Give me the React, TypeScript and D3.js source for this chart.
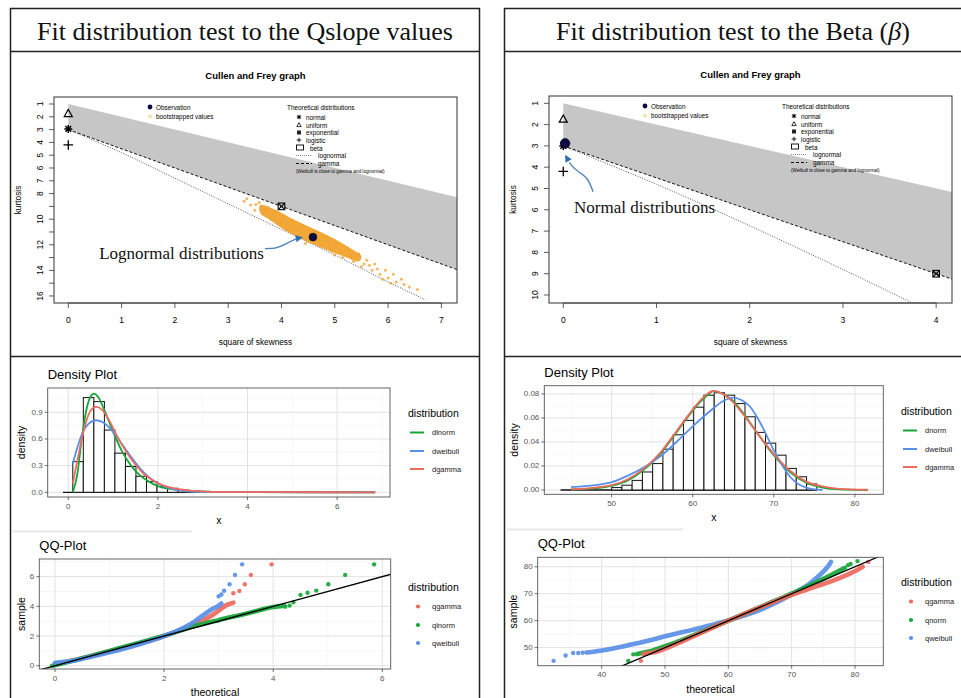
import React from "react";
import * as d3 from "d3";

type P = [number, number];

// ================= Titles =================
const titleLeft = "Fit distribution test to the Qslope values";
const titleRightMain = "Fit distribution test to the Beta (";
const titleRightSym = "β";
const titleRightEnd = ")";

// ================= Cullen & Frey (left, Qslope) =================
const cfL_xTicks = [0, 1, 2, 3, 4, 5, 6, 7];
const cfL_yTicks = [1, 2, 3, 4, 5, 6, 7, 8, 9, 10, 11, 12, 13, 14, 15, 16];
const cfL_yLabels = [1, 2, 3, 4, 5, 6, 7, 8, 10, 12, 14, 16];
const cfL_betaUpper: P[] = [[0, 1], [7.3, 8.3]];
const cfL_gamma: P[] = [[0, 3], [7.3, 13.95]];
const cfL_lognormal: P[] = [[0, 3], [1, 4.8], [2, 6.8], [3, 8.8], [4, 10.8], [5, 12.8], [6, 14.9], [6.7, 16.3]];
const cfL_obs: P = [4.59, 11.4];
const cfL_normal: P = [0, 2.95];
const cfL_uniform: P = [0, 1.75];
const cfL_logistic: P = [0, 4.2];
const cfL_exponential: P = [4, 9];
const cfL_bootCore: P[] = [
  [3.6, 8.9], [3.9, 9.3], [4.22, 10.0], [4.6, 10.75], [5.0, 11.55], [5.3, 12.3], [5.5, 12.9],
  [5.45, 13.3], [5.2, 12.95], [4.85, 12.4], [4.47, 11.75], [4.1, 10.95], [3.8, 10.1], [3.6, 9.5],
];
const cfL_bootPts: P[] = [
  [3.3, 8.6], [3.35, 8.4], [3.42, 8.9], [3.5, 9.3], [3.58, 8.7], [3.65, 9.6], [3.75, 9.1], [3.8, 10.0], [3.9, 9.4],
  [3.95, 10.4], [4.05, 9.8], [4.1, 10.8], [4.2, 10.1], [4.3, 11.3], [4.4, 10.5], [4.5, 11.6], [4.65, 11.0],
  [4.75, 12.1], [4.85, 11.4], [4.95, 12.5], [5.05, 11.9], [5.15, 13.0], [5.25, 12.3], [5.35, 13.3], [5.45, 12.7],
  [5.5, 13.7], [5.6, 13.2], [5.7, 14.0], [5.75, 13.5], [5.85, 14.3], [5.95, 14.0], [6.0, 14.6], [6.1, 14.3],
  [6.15, 14.9], [6.25, 14.7], [6.3, 15.1], [6.4, 15.3], [6.55, 15.5], [6.05, 15.0], [5.9, 14.7],
  [3.7, 9.3], [3.85, 9.7], [4.0, 10.3], [4.15, 10.6], [4.35, 10.9], [4.55, 11.3], [4.7, 11.6], [4.9, 12.0],
  [5.1, 12.5], [5.3, 12.9], [5.55, 13.5], [5.65, 13.6], [5.8, 13.9], [3.52, 8.85], [4.45, 11.9], [5.0, 12.8],
];
const cfL_arrow: P[] = [[3.69, 12.3], [3.91, 12.23], [4.1, 11.89], [4.25, 11.58], [4.3, 11.5]];
const cfL_arrowTip: P = [4.4, 11.42];
const cfL_note = "Lognormal distributions";
const cfL_notePos: P = [0.58, 13.1];

// ================= Cullen & Frey (right, Beta) =================
const cfR_xTicks = [0, 1, 2, 3, 4];
const cfR_yTicks = [1, 2, 3, 4, 5, 6, 7, 8, 9, 10];
const cfR_yLabels = [1, 2, 3, 4, 5, 6, 7, 8, 9, 10];
const cfR_betaUpper: P[] = [[0, 1], [4.2, 5.2]];
const cfR_gamma: P[] = [[0, 3], [4.2, 9.3]];
const cfR_lognormal: P[] = [[0, 3], [1, 4.8], [2, 6.75], [3, 8.8], [3.85, 10.6]];
const cfR_obs: P = [0.02, 2.88];
const cfR_normal: P = [0, 3];
const cfR_uniform: P = [0, 1.75];
const cfR_logistic: P = [0, 4.2];
const cfR_exponential: P = [4, 9];
const cfR_arrow: P[] = [[0.32, 5.15], [0.25, 4.52], [0.126, 4.08], [0.065, 3.77]];
const cfR_arrowTip: P = [0.02, 3.42];
const cfR_note = "Normal distributions";
const cfR_notePos: P = [0.115, 6.15];

const cfLegendTheo = ["normal", "uniform", "exponential", "logistic", "beta", "lognormal", "gamma"];
const cfWeibullNote = "(Weibull is close to gamma and lognormal)";

// ================= Density (left) =================
const dL_binStart = 0.1;
const dL_binWidth = 0.235;
const dL_heights = [0.345, 1.065, 1.02, 0.7, 0.44, 0.29, 0.18, 0.12, 0.065, 0.045, 0.025, 0.015, 0.01, 0.006, 0.004];
const dL_zero: P = [-0.12, 6.84];
const dL_lnorm: P[] = [[0.1, 0.0], [0.2, 0.2], [0.3, 0.6], [0.4, 0.92], [0.5, 1.08], [0.57, 1.11], [0.67, 1.07], [0.8, 0.93], [1.0, 0.68], [1.2, 0.46], [1.4, 0.3], [1.6, 0.19], [1.8, 0.12], [2.0, 0.07], [2.3, 0.035], [2.6, 0.018], [3.0, 0.008], [4.0, 0.001], [6.85, 0]];
const dL_weibull: P[] = [[0.1, 0.32], [0.2, 0.5], [0.3, 0.65], [0.45, 0.77], [0.62, 0.81], [0.8, 0.78], [1.0, 0.68], [1.2, 0.54], [1.4, 0.4], [1.6, 0.27], [1.8, 0.17], [2.0, 0.1], [2.2, 0.055], [2.5, 0.02], [2.8, 0.006], [3.2, 0.001], [6.85, 0]];
const dL_gamma: P[] = [[0.1, 0.1], [0.2, 0.35], [0.3, 0.6], [0.4, 0.8], [0.5, 0.92], [0.62, 0.96], [0.75, 0.93], [0.9, 0.82], [1.1, 0.62], [1.3, 0.45], [1.5, 0.31], [1.7, 0.2], [1.9, 0.13], [2.1, 0.08], [2.4, 0.04], [2.8, 0.015], [3.2, 0.005], [4.0, 0.001], [6.85, 0]];
const dL_legend = ["dlnorm", "dweibull", "dgamma"];

// ================= Density (right) =================
const dR_binStart = 50.0;
const dR_binWidth = 1.265;
const dR_heights = [0.002, 0.004, 0.008, 0.015, 0.022, 0.034, 0.046, 0.058, 0.069, 0.079, 0.081, 0.079, 0.072, 0.061, 0.048, 0.039, 0.029, 0.018, 0.011, 0.005];
const dR_zero: P = [43.7, 75.3];
const dR_norm: P[] = [[45, 0.0004], [48, 0.0015], [50, 0.0035], [52, 0.008], [54, 0.017], [56, 0.03], [58, 0.048], [60, 0.066], [61, 0.074], [62, 0.08], [62.5, 0.0825], [63, 0.082], [64, 0.079], [65, 0.074], [66, 0.066], [68, 0.047], [70, 0.029], [72, 0.015], [74, 0.006], [76, 0.002], [78, 0.0005], [81.6, 0]];
const dR_weibull: P[] = [[45, 0.0023], [48, 0.004], [50, 0.0065], [52, 0.012], [54, 0.019], [56, 0.028], [58, 0.04], [60, 0.053], [62, 0.065], [64, 0.075], [65, 0.077], [66, 0.075], [67, 0.07], [68, 0.06], [69, 0.047], [70, 0.033], [71, 0.021], [72, 0.011], [73, 0.005], [74, 0.002], [75, 0.0005], [76, 0]];
const dR_gamma: P[] = [[45, 0.0005], [48, 0.002], [50, 0.004], [52, 0.009], [54, 0.018], [56, 0.031], [58, 0.049], [60, 0.067], [61, 0.075], [62, 0.081], [62.5, 0.0825], [63, 0.082], [64, 0.079], [65, 0.073], [66, 0.065], [68, 0.047], [70, 0.03], [72, 0.016], [74, 0.007], [76, 0.003], [78, 0.001], [81.6, 0.0002]];
const dR_legend = ["dnorm", "dweibull", "dgamma"];

// ================= QQ (left) =================
const qL_redBand: P[] = [[0, 0.1], [0.5, 0.5], [1, 0.97], [1.5, 1.45], [2, 2.0], [2.3, 2.4], [2.66, 2.97], [2.9, 3.45], [3.05, 3.85], [3.15, 4.1], [3.27, 4.25]];
const qL_redPts: P[] = [[3.27, 4.88], [3.38, 5.04], [3.48, 5.49], [3.59, 6.12], [3.97, 6.83]];
const qL_greenBand: P[] = [[-0.05, 0], [0.5, 0.5], [1, 1], [1.5, 1.5], [2, 2.02], [2.5, 2.6], [3, 3.07], [3.5, 3.5], [4, 3.95], [4.2, 4.05]];
const qL_greenPts: P[] = [[4.22, 3.98], [4.3, 4.05], [4.37, 4.27], [4.5, 4.77], [4.63, 4.92], [4.79, 5.06], [5.01, 5.49], [5.32, 6.12], [5.85, 6.83]];
const qL_blueBand: P[] = [[0, 0.2], [0.3, 0.32], [0.6, 0.55], [1, 0.9], [1.5, 1.4], [2, 2.0], [2.3, 2.45], [2.55, 2.95], [2.75, 3.5], [2.9, 3.85], [3.0, 4.05], [3.05, 4.2]];
const qL_bluePts: P[] = [[3.0, 4.68], [3.05, 4.8], [3.1, 5.05], [3.2, 5.49], [3.3, 6.12], [3.43, 6.83]];
const qL_legend = ["qgamma", "qlnorm", "qweibull"];

// ================= QQ (right) =================
const qR_blueBand: P[] = [[37.6, 48.2], [38.5, 48.4], [40, 48.9], [42, 49.8], [44, 50.8], [46, 51.8], [48, 52.9], [50, 54.2], [52, 55.3], [54, 56.4], [56, 57.6], [58, 58.8], [60, 60.1], [62, 61.5], [64, 63.1], [66, 65], [68, 67.2], [70, 69.7], [72, 72.4], [73, 74], [74, 76], [75, 78.2], [75.7, 80], [76.2, 81.8]];
const qR_bluePts: P[] = [[32.4, 45.1], [34.3, 47.1], [35.5, 48.0], [36.3, 48.0], [37.0, 48.1]];
const qR_greenBand: P[] = [[45.6, 47.6], [46.5, 48.1], [48, 48.9], [50, 50.5], [52, 52.2], [54, 54.1], [56, 56], [58, 58], [60, 60], [62, 62], [64, 64], [66, 66], [68, 68], [70, 70], [72, 72.1], [74, 74.3], [76, 76.6], [77.5, 78.5], [78.4, 79.6]];
const qR_greenPts: P[] = [[44.2, 45.1], [45.0, 47.5], [78.9, 80.6], [79.3, 81.0], [80.4, 82.1]];
const qR_redBand: P[] = [[46.6, 47.6], [47.5, 48.0], [48.5, 48.4], [50, 49.6], [52, 51.6], [54, 53.7], [56, 55.8], [58, 57.9], [60, 60], [62, 62], [64, 64], [66, 65.9], [68, 67.8], [70, 69.6], [72, 71.2], [74, 72.8], [76, 74.4], [78, 76.2], [79.5, 77.8], [80.5, 79], [81.2, 80]];
const qR_redPts: P[] = [[46.2, 45.1], [82.1, 81.8]];
const qR_legend = ["qgamma", "qnorm", "qweibull"];

// ================= Styles =================
const RED = "#ED6A5E";
const GREEN = "#14A637";
const BLUE = "#5A8FE8";
const SANS = "'Liberation Sans', Arial, sans-serif";
const SERIF = "'Liberation Serif', 'Times New Roman', serif";

// ---------- marker helpers ----------
function Star({ cx, cy, s, w = 1.3 }: { cx: number; cy: number; s: number; w?: number }) {
  const d = s * 0.72;
  return (
    <path
      d={`M${cx - s},${cy}L${cx + s},${cy}M${cx},${cy - s}L${cx},${cy + s}M${cx - d},${cy - d}L${cx + d},${cy + d}M${cx - d},${cy + d}L${cx + d},${cy - d}`}
      stroke="#000" strokeWidth={w} fill="none"
    />
  );
}
function Tri({ cx, cy, s, w = 1.2 }: { cx: number; cy: number; s: number; w?: number }) {
  return (
    <path d={`M${cx},${cy - s}L${cx - s * 0.95},${cy + s * 0.7}L${cx + s * 0.95},${cy + s * 0.7}Z`} stroke="#000" strokeWidth={w} fill="none" />
  );
}
function Plus({ cx, cy, s, w = 1.2 }: { cx: number; cy: number; s: number; w?: number }) {
  return <path d={`M${cx - s},${cy}L${cx + s},${cy}M${cx},${cy - s}L${cx},${cy + s}`} stroke="#000" strokeWidth={w} fill="none" />;
}
function SqX({ cx, cy, s, w = 1.1 }: { cx: number; cy: number; s: number; w?: number }) {
  return (
    <g>
      <rect x={cx - s} y={cy - s} width={2 * s} height={2 * s} fill="none" stroke="#000" strokeWidth={w} />
      <path d={`M${cx - s},${cy - s}L${cx + s},${cy + s}M${cx - s},${cy + s}L${cx + s},${cy - s}`} stroke="#000" strokeWidth={w} />
    </g>
  );
}

function arrowHeadPath(from: [number, number], tip: [number, number], len: number, half: number) {
  const ang = Math.atan2(tip[1] - from[1], tip[0] - from[0]);
  const bx = tip[0] - len * Math.cos(ang);
  const by = tip[1] - len * Math.sin(ang);
  const px = -Math.sin(ang) * half;
  const py = Math.cos(ang) * half;
  return `M${tip[0]},${tip[1]}L${bx + px},${by + py}L${bx - px},${by - py}Z`;
}

// ---------- Cullen & Frey panel ----------
function CullenFrey(p: any) {
  const { l, r, t, b, xDom, yDom, xTicks, yTicks, yLabels, betaUpper, gamma, lognormal, obs, obsR,
    normal, uniform, logistic, exponential, bootCore, bootPts, arrow, arrowTip, note, notePos, id } = p;
  const x = d3.scaleLinear().domain(xDom).range([l, r]);
  const y = d3.scaleLinear().domain(yDom).range([t, b]);
  const line = d3.line<P>().x((d) => x(d[0])).y((d) => y(d[1]));
  const curve = d3.line<P>().x((d) => x(d[0])).y((d) => y(d[1])).curve(d3.curveCatmullRom);
  const poly: P[] = [...betaUpper, ...gamma.slice().reverse()];
  const cx = (l + r) / 2;
  const last = arrow[arrow.length - 1];
  const lx = l + 96;
  const tx = l + 233;
  const sx = l + 245;
  const ly0 = t + 10;
  const legFont = 6.4;
  const theoY = [20, 28, 35.5, 43, 51, 58.5, 66.5].map((v) => t + v);
  return (
    <g fontFamily={SANS}>
      <defs>
        <clipPath id={id}>
          <rect x={l} y={t} width={r - l} height={b - t} />
        </clipPath>
      </defs>
      <text x={cx} y={t - 22} textAnchor="middle" fontWeight="bold" fontSize={9.5} dominantBaseline="central">Cullen and Frey graph</text>
      <g clipPath={`url(#${id})`}>
        <path d={line(poly) + "Z"} fill="#c6c6c6" stroke="none" />
        <path d={line(gamma) || ""} fill="none" stroke="#111" strokeWidth={1} strokeDasharray="3,2" />
        <path d={curve(lognormal) || ""} fill="none" stroke="#555" strokeWidth={1} strokeDasharray="1,1.5" />
        {bootCore && <path d={d3.line<P>().x((d) => x(d[0])).y((d) => y(d[1])).curve(d3.curveCatmullRomClosed)(bootCore) || ""} fill="#ef9f22" opacity={0.9} />}
        {bootPts && bootPts.map((d: P, i: number) => <circle key={i} cx={x(d[0])} cy={y(d[1])} r={1.5} fill="#f2a02a" opacity={0.75} />)}
        <Tri cx={x(uniform[0])} cy={y(uniform[1])} s={4.2} />
        <Star cx={x(normal[0])} cy={y(normal[1])} s={4} w={1.5} />
        <Plus cx={x(logistic[0])} cy={y(logistic[1])} s={4.8} w={1.3} />
        <SqX cx={x(exponential[0])} cy={y(exponential[1])} s={3.3} />
        <circle cx={x(obs[0])} cy={y(obs[1])} r={obsR} fill="#0b0b45" stroke="#000" strokeWidth={0.6} />
        <path d={curve(arrow) || ""} fill="none" stroke="#4a7db5" strokeWidth={1.3} />
        <path d={arrowHeadPath([x(last[0]), y(last[1])], [x(arrowTip[0]), y(arrowTip[1])], 7, 3.6)} fill="#2f6db3" />
      </g>
      <text x={x(notePos[0])} y={y(notePos[1])} fontFamily={SERIF} fontSize={17} fill="#111">{note}</text>
      <rect x={l} y={t} width={r - l} height={b - t} fill="none" stroke="#333" strokeWidth={1} />
      {xTicks.map((v: number) => (
        <g key={"xt" + v}>
          <line x1={x(v)} x2={x(v)} y1={b} y2={b + 5} stroke="#333" strokeWidth={0.8} />
          <text x={x(v)} y={b + 17} textAnchor="middle" dominantBaseline="central" fontSize={8.5}>{v}</text>
        </g>
      ))}
      <line x1={x(xTicks[0])} x2={x(xTicks[xTicks.length - 1])} y1={b} y2={b} stroke="#333" strokeWidth={0.8} />
      {yTicks.map((v: number) => (
        <line key={"yt" + v} x1={l - 5} x2={l} y1={y(v)} y2={y(v)} stroke="#333" strokeWidth={0.8} />
      ))}
      {yLabels.map((v: number) => (
        <text key={"yl" + v} transform={`translate(${l - 14},${y(v)}) rotate(-90)`} textAnchor="middle" dominantBaseline="central" fontSize={8.5}>{v}</text>
      ))}
      <text x={cx} y={b + 39} textAnchor="middle" dominantBaseline="central" fontSize={8.3}>square of skewness</text>
      <text transform={`translate(${l - 36},${(t + b) / 2}) rotate(-90)`} textAnchor="middle" dominantBaseline="central" fontSize={8.3}>kurtosis</text>
      <circle cx={lx} cy={ly0} r={2.4} fill="#0b0b45" />
      <text x={lx + 6} y={ly0} dominantBaseline="central" fontSize={legFont}>Observation</text>
      <circle cx={lx} cy={ly0 + 9.5} r={2} fill="#ece5a8" />
      <text x={lx + 6} y={ly0 + 9.5} dominantBaseline="central" fontSize={legFont}>bootstrapped values</text>
      <text x={tx} y={ly0} dominantBaseline="central" fontSize={legFont}>Theoretical distributions</text>
      <Star cx={sx} cy={theoY[0]} s={2.2} w={1} />
      <Tri cx={sx} cy={theoY[1]} s={2.3} w={0.8} />
      <rect x={sx - 2} y={theoY[2] - 2} width={4} height={4} fill="#222" />
      <Plus cx={sx} cy={theoY[3]} s={2.3} w={0.9} />
      <rect x={sx - 2.5} y={theoY[4] - 3} width={7} height={5} fill="none" stroke="#000" strokeWidth={0.9} />
      <line x1={sx - 3} x2={sx + 13} y1={theoY[5]} y2={theoY[5]} stroke="#666" strokeWidth={0.8} strokeDasharray="1,1" />
      <line x1={sx - 3} x2={sx + 13} y1={theoY[6]} y2={theoY[6]} stroke="#000" strokeWidth={1} strokeDasharray="3,2" />
      {cfLegendTheo.map((s, i) => (
        <text key={s} x={i >= 5 ? sx + 19 : i === 4 ? sx + 11 : sx + 7} y={theoY[i]} dominantBaseline="central" fontSize={legFont}>{s}</text>
      ))}
      <text x={sx - 3} y={t + 74} dominantBaseline="central" fontSize={4.7}>{cfWeibullNote}</text>
    </g>
  );
}

// ---------- ggplot-like panel ----------
function GG(p: any) {
  const { l, r, t, b, xDom, yDom, xMajor, xMinor, yMajor, yMinor, yFmt, title, titleY, xLab, yLabX, legTitle, legX, legY,
    legItems, legColors, legType, id, draw } = p;
  const x = d3.scaleLinear().domain(xDom).range([l, r]);
  const y = d3.scaleLinear().domain(yDom).range([b, t]);
  const fmt = d3.format(yFmt);
  const itemY = [19.5, 38, 56];
  return (
    <g fontFamily={SANS}>
      <defs>
        <clipPath id={id}>
          <rect x={l} y={t} width={r - l} height={b - t} />
        </clipPath>
      </defs>
      <rect x={l} y={t} width={r - l} height={b - t} fill="#fff" />
      {xMinor.map((v: number) => <line key={"xm" + v} x1={x(v)} x2={x(v)} y1={t} y2={b} stroke="#f1f1f1" strokeWidth={0.6} />)}
      {yMinor.map((v: number) => <line key={"ym" + v} x1={l} x2={r} y1={y(v)} y2={y(v)} stroke="#f1f1f1" strokeWidth={0.6} />)}
      {xMajor.map((v: number) => <line key={"xM" + v} x1={x(v)} x2={x(v)} y1={t} y2={b} stroke="#e2e2e2" strokeWidth={1} />)}
      {yMajor.map((v: number) => <line key={"yM" + v} x1={l} x2={r} y1={y(v)} y2={y(v)} stroke="#e2e2e2" strokeWidth={1} />)}
      <g clipPath={`url(#${id})`}>{draw(x, y)}</g>
      <rect x={l} y={t} width={r - l} height={b - t} fill="none" stroke="#555" strokeWidth={0.9} />
      {xMajor.map((v: number) => (
        <g key={"xt" + v}>
          <line x1={x(v)} x2={x(v)} y1={b} y2={b + 3} stroke="#444" strokeWidth={0.8} />
          <text x={x(v)} y={b + 9} textAnchor="middle" dominantBaseline="central" fontSize={8} fill="#555">{v}</text>
        </g>
      ))}
      {yMajor.map((v: number) => (
        <g key={"yt" + v}>
          <line x1={l - 3} x2={l} y1={y(v)} y2={y(v)} stroke="#444" strokeWidth={0.8} />
          <text x={l - 5} y={y(v)} textAnchor="end" dominantBaseline="central" fontSize={8} fill="#555">{fmt(v)}</text>
        </g>
      ))}
      <text x={l} y={titleY} fontSize={13}>{title}</text>
      <text x={(l + r) / 2} y={b + 23} textAnchor="middle" dominantBaseline="central" fontSize={10.5}>{xLab}</text>
      <text transform={`translate(${yLabX},${(t + b) / 2}) rotate(-90)`} textAnchor="middle" dominantBaseline="central" fontSize={10.5}>{p.yLab}</text>
      <text x={legX} y={legY} dominantBaseline="central" fontSize={10.5}>{legTitle}</text>
      {legItems.map((s: string, i: number) => (
        <g key={s}>
          {legType === "line" ? (
            <line x1={legX + 2} x2={legX + 16} y1={legY + itemY[i]} y2={legY + itemY[i]} stroke={legColors[i]} strokeWidth={2} />
          ) : (
            <circle cx={legX + 10} cy={legY + itemY[i]} r={2.1} fill={legColors[i]} />
          )}
          <text x={legX + 24} y={legY + itemY[i]} dominantBaseline="central" fontSize={7.5} fill="#222">{s}</text>
        </g>
      ))}
    </g>
  );
}

function densityDraw(binStart: number, binWidth: number, heights: number[], zero: P, curves: { d: P[]; c: string }[]) {
  return (x: any, y: any) => {
    const ln = d3.line<P>().x((d) => x(d[0])).y((d) => y(d[1])).curve(d3.curveMonotoneX);
    return (
      <g>
        <line x1={x(zero[0])} x2={x(zero[1])} y1={y(0)} y2={y(0)} stroke="#111" strokeWidth={1.3} />
        {heights.map((h, i) => (
          <rect key={i} x={x(binStart + i * binWidth)} width={x(binWidth) - x(0)} y={y(h)} height={y(0) - y(h)} fill="#fff" stroke="#111" strokeWidth={1} />
        ))}
        {curves.map((c, i) => (
          <path key={i} d={ln(c.d) || ""} fill="none" stroke={c.c} strokeWidth={1.8} />
        ))}
      </g>
    );
  };
}

function qqDraw(sets: { band: P[]; pts: P[]; c: string }[], ref: P[]) {
  return (x: any, y: any) => {
    const ln = d3.line<P>().x((d) => x(d[0])).y((d) => y(d[1])).curve(d3.curveMonotoneX);
    const straight = d3.line<P>().x((d) => x(d[0])).y((d) => y(d[1]));
    return (
      <g>
        {sets.map((s, i) => (
          <g key={i} opacity={0.92}>
            <path d={ln(s.band) || ""} fill="none" stroke={s.c} strokeWidth={4.6} strokeLinecap="round" strokeLinejoin="round" />
            {s.pts.map((d, j) => (
              <circle key={j} cx={x(d[0])} cy={y(d[1])} r={2.2} fill={s.c} />
            ))}
          </g>
        ))}
        <path d={straight(ref) || ""} stroke="#000" strokeWidth={1.3} fill="none" />
      </g>
    );
  };
}

const qqRefL: P[] = [[-1, -1], [7, 7]];
const qqRefR: P[] = [[40, 40], [90, 90]];

export default function App() {
  const frame = "#222";
  return (
    <svg width={961} height={698} style={{ position: "absolute", left: 0, top: 0, background: "#fff" }}>
      <rect width={961} height={698} fill="#fff" />
      <g stroke={frame} strokeWidth={1.5} fill="none">
        <line x1={10.5} x2={10.5} y1={8} y2={698} />
        <line x1={479.5} x2={479.5} y1={8} y2={698} />
        <line x1={10} x2={480} y1={8.5} y2={8.5} />
        <line x1={10} x2={480} y1={51.5} y2={51.5} />
        <line x1={10} x2={480} y1={356.5} y2={356.5} />
        <line x1={504.5} x2={504.5} y1={8} y2={698} />
        <line x1={504} x2={961} y1={8.5} y2={8.5} />
        <line x1={504} x2={961} y1={51.5} y2={51.5} />
        <line x1={504} x2={961} y1={356.5} y2={356.5} />
      </g>
      <line x1={13} x2={192} y1={531.5} y2={531.5} stroke="#e8e8e8" strokeWidth={2} />
      <line x1={507} x2={683} y1={529.5} y2={529.5} stroke="#e8e8e8" strokeWidth={2} />
      <text x={245} y={40} textAnchor="middle" fontFamily={SERIF} fontSize={26} fill="#111">{titleLeft}</text>
      <text x={733} y={40} textAnchor="middle" fontFamily={SERIF} fontSize={26} fill="#111">
        {titleRightMain}
        <tspan fontStyle="italic">{titleRightSym}</tspan>
        {titleRightEnd}
      </text>

      <CullenFrey id="cfL" l={54} r={457} t={97} b={303} xDom={[-0.268, 7.293]} yDom={[0.453, 16.55]}
        xTicks={cfL_xTicks} yTicks={cfL_yTicks} yLabels={cfL_yLabels} betaUpper={cfL_betaUpper} gamma={cfL_gamma}
        lognormal={cfL_lognormal} obs={cfL_obs} obsR={3.9} normal={cfL_normal} uniform={cfL_uniform} logistic={cfL_logistic}
        exponential={cfL_exponential} bootCore={cfL_bootCore} bootPts={cfL_bootPts} arrow={cfL_arrow} arrowTip={cfL_arrowTip}
        note={cfL_note} notePos={cfL_notePos} />
      <CullenFrey id="cfR" l={549} r={952} t={96} b={303} xDom={[-0.153, 4.17]} yDom={[0.657, 10.376]}
        xTicks={cfR_xTicks} yTicks={cfR_yTicks} yLabels={cfR_yLabels} betaUpper={cfR_betaUpper} gamma={cfR_gamma}
        lognormal={cfR_lognormal} obs={cfR_obs} obsR={4.8} normal={cfR_normal} uniform={cfR_uniform} logistic={cfR_logistic}
        exponential={cfR_exponential} arrow={cfR_arrow} arrowTip={cfR_arrowTip} note={cfR_note} notePos={cfR_notePos} />

      <GG id="dL" l={47.7} r={390} t={388} b={497} xDom={[-0.46, 7.18]} yDom={[-0.053, 1.173]}
        xMajor={[0, 2, 4, 6]} xMinor={[1, 3, 5, 7]} yMajor={[0, 0.3, 0.6, 0.9]} yMinor={[0.15, 0.45, 0.75, 1.05]} yFmt=".1f"
        title="Density Plot" titleY={379} xLab="x" yLab="density" yLabX={21}
        legTitle="distribution" legX={408} legY={413} legItems={dL_legend} legColors={[GREEN, BLUE, RED]} legType="line"
        draw={densityDraw(dL_binStart, dL_binWidth, dL_heights, dL_zero, [{ d: dL_lnorm, c: GREEN }, { d: dL_weibull, c: BLUE }, { d: dL_gamma, c: RED }])} />
      <GG id="dR" l={544.3} r={883.3} t={385.7} b={494.3} xDom={[41.7, 83.5]} yDom={[-0.0036, 0.0869]}
        xMajor={[50, 60, 70, 80]} xMinor={[45, 55, 65, 75]} yMajor={[0, 0.02, 0.04, 0.06, 0.08]} yMinor={[0.01, 0.03, 0.05, 0.07]} yFmt=".2f"
        title="Density Plot" titleY={377} xLab="x" yLab="density" yLabX={514}
        legTitle="distribution" legX={901} legY={411} legItems={dR_legend} legColors={[GREEN, BLUE, RED]} legType="line"
        draw={densityDraw(dR_binStart, dR_binWidth, dR_heights, dR_zero, [{ d: dR_norm, c: GREEN }, { d: dR_weibull, c: BLUE }, { d: dR_gamma, c: RED }])} />

      <GG id="qL" l={39.3} r={390.7} t={559} b={669} xDom={[-0.288, 6.154]} yDom={[-0.22, 7.19]}
        xMajor={[0, 2, 4, 6]} xMinor={[1, 3, 5]} yMajor={[0, 2, 4, 6]} yMinor={[1, 3, 5, 7]} yFmt="d"
        title="QQ-Plot" titleY={550} xLab="theoretical" yLab="sample" yLabX={21}
        legTitle="distribution" legX={408} legY={587} legItems={qL_legend} legColors={[RED, GREEN, BLUE]} legType="point"
        draw={qqDraw([{ band: qL_redBand, pts: qL_redPts, c: RED }, { band: qL_greenBand, pts: qL_greenPts, c: GREEN }, { band: qL_blueBand, pts: qL_bluePts, c: BLUE }], qqRefL)} />
      <GG id="qR" l={537.7} r={883.3} t={557.3} b={665.7} xDom={[29.9, 84.47]} yDom={[43.3, 83.5]}
        xMajor={[40, 50, 60, 70, 80]} xMinor={[35, 45, 55, 65, 75]} yMajor={[50, 60, 70, 80]} yMinor={[45, 55, 65, 75]} yFmt="d"
        title="QQ-Plot" titleY={548} xLab="theoretical" yLab="sample" yLabX={512.7}
        legTitle="distribution" legX={901} legY={582} legItems={qR_legend} legColors={[RED, GREEN, BLUE]} legType="point"
        draw={qqDraw([{ band: qR_blueBand, pts: qR_bluePts, c: BLUE }, { band: qR_greenBand, pts: qR_greenPts, c: GREEN }, { band: qR_redBand, pts: qR_redPts, c: RED }], qqRefR)} />
    </svg>
  );
}
